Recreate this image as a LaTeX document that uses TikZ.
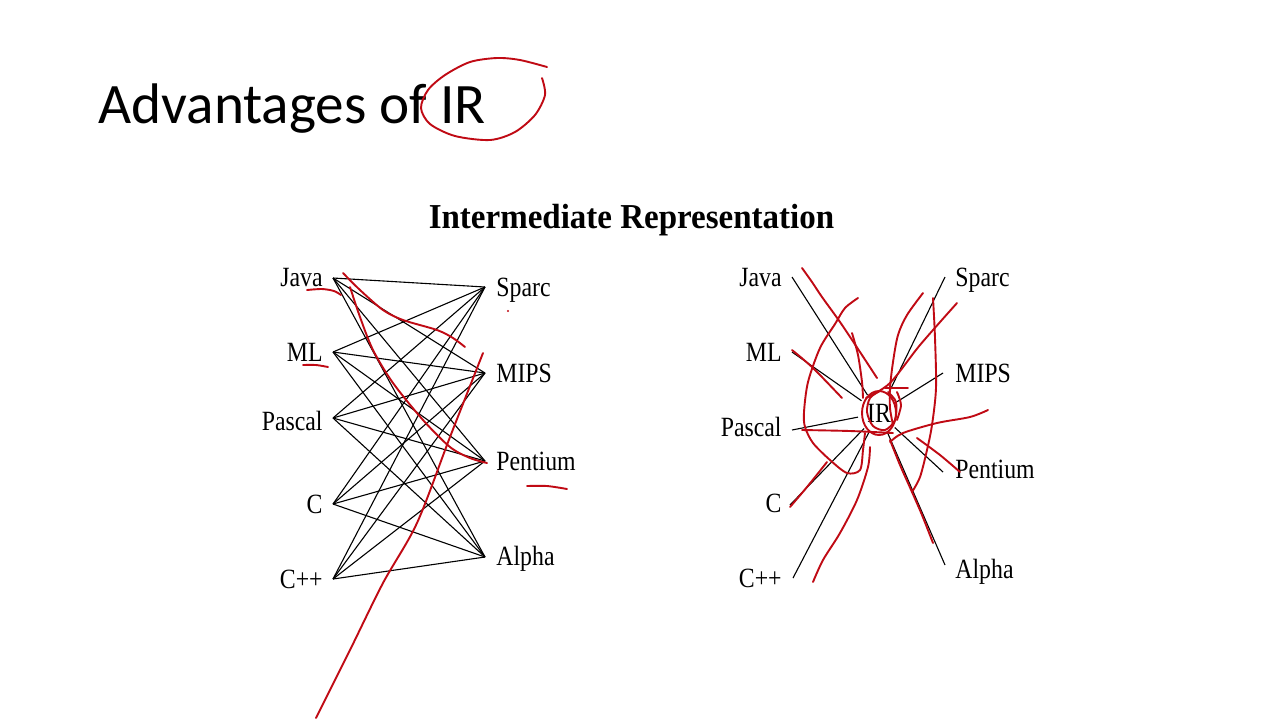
\documentclass[tikz,border=0pt]{standalone}
\usepackage{graphicx}
\usepackage{fontspec}
\setmainfont{Liberation Serif}
\newfontfamily\calibri{Carlito}
\definecolor{ink}{RGB}{192,10,20}
\newcommand\vst[1]{\scalebox{1}[1.17]{#1}}
\begin{document}
\begin{tikzpicture}[x=0.5pt,y=-0.5pt,
  lab/.style={inner sep=0pt,font=\fontsize{11.9}{14}\selectfont},
  wire/.style={black,line width=0.55pt},
  hand/.style={ink,line width=0.95pt,line cap=round,line join=round}]
\fill[white] (0,0) rectangle (1280,720);
\useasboundingbox (0,0) rectangle (1280,720);

% titles
\node[anchor=base west,inner sep=0pt,font=\calibri\fontsize{28.6}{32}\selectfont] (title) at (98,123) {Advantages of IR};
\node[anchor=base,inner sep=0pt,font=\bfseries\fontsize{16.5}{20}\selectfont] (head) at (631.5,228) {\scalebox{1}[1.06]{Intermediate Representation}};

% ---------- left graph: every language to every machine
\coordinate (L1) at (333,278);
\coordinate (L2) at (333,352);
\coordinate (L3) at (333,418);
\coordinate (L4) at (333,504);
\coordinate (L5) at (333,579);
\coordinate (R1) at (485,287);
\coordinate (R2) at (485,373);
\coordinate (R3) at (485,461);
\coordinate (R4) at (485,557);
\node[lab,anchor=base east] (L1t) at (323,286) {\vst{Java}};
\node[lab,anchor=base east] (L2t) at (323,361) {\vst{ML}};
\node[lab,anchor=base east] (L3t) at (323,430) {\vst{Pascal}};
\node[lab,anchor=base east] (L4t) at (323,513) {\vst{C}};
\node[lab,anchor=base east] (L5t) at (323,588) {\vst{C++}};
\node[lab,anchor=base west] (R1t) at (496,296) {\vst{Sparc}};
\node[lab,anchor=base west] (R2t) at (496,382) {\vst{MIPS}};
\node[lab,anchor=base west] (R3t) at (496,470) {\vst{Pentium}};
\node[lab,anchor=base west] (R4t) at (496,565) {\vst{Alpha}};
\foreach \i in {1,...,5}{\foreach \j in {1,...,4}{\draw[wire] (L\i) -- (R\j);}}

% ---------- right graph: through IR
\node[circle,inner sep=0pt,minimum size=21pt,font=\fontsize{11.9}{14}\selectfont] (IR) at (879,413) {\vst{IR}};
\coordinate (A1) at (792,277);
\coordinate (A2) at (792,352);
\coordinate (A3) at (792,430);
\coordinate (A4) at (790,505);
\coordinate (A5) at (793,578);
\coordinate (B1) at (945,277);
\coordinate (B2) at (943,373);
\coordinate (B3) at (943,472);
\coordinate (B4) at (945,565);
\node[lab,anchor=base east] (A1t) at (782,286) {\vst{Java}};
\node[lab,anchor=base east] (A2t) at (782,361) {\vst{ML}};
\node[lab,anchor=base east] (A3t) at (782,436) {\vst{Pascal}};
\node[lab,anchor=base east] (A4t) at (782,512) {\vst{C}};
\node[lab,anchor=base east] (A5t) at (782,587) {\vst{C++}};
\node[lab,anchor=base west] (B1t) at (955,286) {\vst{Sparc}};
\node[lab,anchor=base west] (B2t) at (955,382) {\vst{MIPS}};
\node[lab,anchor=base west] (B3t) at (955,478) {\vst{Pentium}};
\node[lab,anchor=base west] (B4t) at (955,578) {\vst{Alpha}};
\foreach \i in {1,...,5}{\draw[wire] (A\i) -- (IR);}
\foreach \j in {1,...,4}{\draw[wire] (B\j) -- (IR);}

% ---------- red hand annotations
% title circle
\draw[hand] plot[smooth] coordinates {(547,67) (520,60) (497,58) (470,62) (445,75) (428,90) (421,108) (430,124) (455,136) (490,140) (515,132) (535,115) (545,95) (542,78)};
% left graph
\draw[hand] plot[smooth] coordinates {(307,290) (322,289) (334,291) (341,295)};
\draw[hand] plot[smooth] coordinates {(343,273) (360,290) (383,310) (403,320) (437,330) (453,338) (465,347)};
\draw[hand] plot[smooth] coordinates {(350,287) (360,317) (373,350) (393,383) (423,420) (450,447) (470,458) (487,463)};
\draw[hand] plot[smooth] coordinates {(303,365) (316,365) (328,367)};
\draw[hand] plot[smooth] coordinates {(483,353) (450,437) (417,523) (383,583) (350,650) (316,718)};
\draw[hand] plot[smooth] coordinates {(527,486) (547,486) (567,489)};
\fill[ink] (508,311) circle (1.2);
% right graph
\draw[hand] plot[smooth] coordinates {(802,268) (812,282) (822,297) (840,322) (860,352) (877,378)};
\draw[hand] plot[smooth] coordinates {(858,298) (845,308) (835,324) (820,348) (808,382) (804,412) (805,427) (813,443) (830,460) (847,473) (860,470) (863,450) (865,433)};
\draw[hand] plot[smooth] coordinates {(792,350) (813,368) (842,398)};
\draw[hand] plot[smooth] coordinates {(852,333) (858,355) (862,382) (863,398)};
\draw[hand] plot[smooth] coordinates {(957,303) (920,345) (890,383) (866,398)};
\draw[hand] plot[smooth] coordinates {(923,293) (907,315) (898,335) (893,362) (890,388) (890,408) (893,425)};
\draw[hand] plot[smooth] coordinates {(933,298) (935,338) (936,388) (932,425) (927,450) (920,477) (912,492)};
\draw[hand] plot[smooth] coordinates {(988,410) (970,417) (937,423) (903,433) (890,442)};
\draw[hand] plot[smooth] coordinates {(917,438) (940,455) (960,472)};
\draw[hand] plot[smooth] coordinates {(890,440) (900,465) (912,492) (922,515) (933,543)};
\draw[hand] plot[smooth] coordinates {(802,430) (850,431) (893,433)};
\draw[hand] plot[smooth] coordinates {(790,507) (807,487) (827,462)};
\draw[hand] plot[smooth] coordinates {(870,447) (868,467) (857,500) (840,533) (823,560) (813,582)};
\draw[hand] (879,413) ellipse [x radius=17, y radius=22];
\draw[hand] plot[smooth] coordinates {(880,391) (870,398) (867,412) (873,426) (885,430) (895,420) (896,402) (888,392)};
\draw[hand] (885,388) -- (908,388);
\draw[hand] plot[smooth] coordinates {(897,392) (901,405) (897,420)};
\end{tikzpicture}
\end{document}
